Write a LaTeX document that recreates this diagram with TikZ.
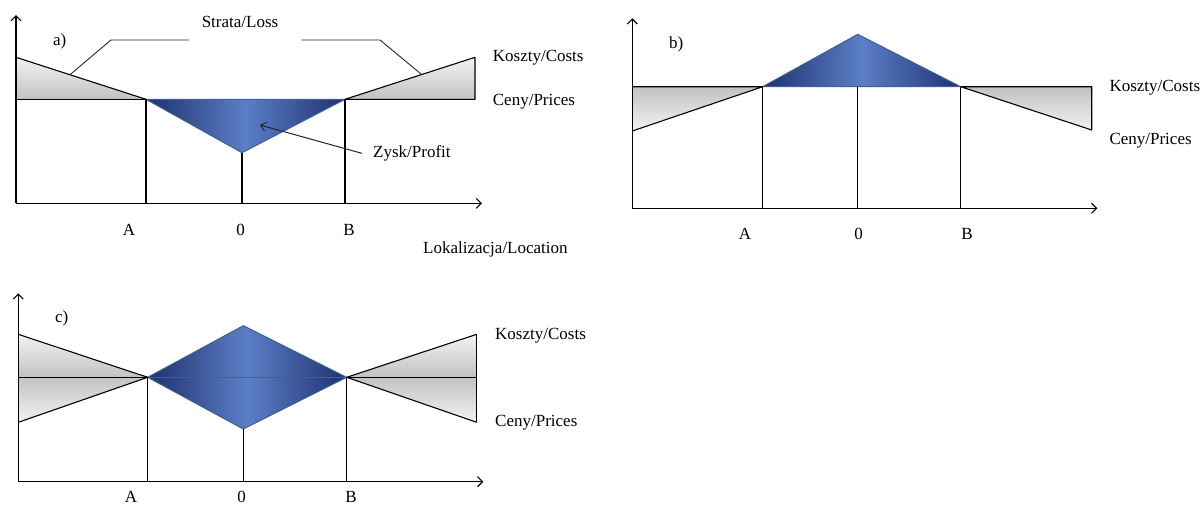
\documentclass[tikz,border=0pt]{standalone}
\usepackage{fontspec}
\setmainfont{Liberation Serif}
\usetikzlibrary{arrows.meta,calc}
\definecolor{bdark}{RGB}{30,50,110}
\definecolor{bmid}{RGB}{92,126,200}
\definecolor{bbord}{RGB}{62,96,150}
\begin{document}
\begin{tikzpicture}[x=1pt,y=-1pt,
  ln/.style={black, line width=1.1pt, line join=round},
  leader/.style={black!85, line width=0.9pt},
  axis/.style={ln, -{Straight Barb[length=5pt,width=10pt]}},
  arr/.style={black!85, line width=1pt, -{Straight Barb[length=5pt,width=9pt]}},
  gdown/.style={top color=gray!10, bottom color=gray!48},
  gup/.style={top color=gray!48, bottom color=gray!10},
  blueshape/.style={left color=bdark, right color=bdark, middle color=bmid, draw=bbord, line width=1pt, line join=round},
  txt/.style={inner sep=0pt, font=\fontsize{17}{20}\selectfont},
  tw/.style={txt, anchor=base west},
  tc/.style={txt, anchor=base}]
\useasboundingbox (0,0) rectangle (1202,504);
\fill[white] (0,0) rectangle (1202,504);

% ---------------- panel a ----------------
\coordinate (aO) at (16,203.3);
\coordinate (aY) at (16,15);
\coordinate (aX) at (482,203.3);
\coordinate (aC0) at (16,57.3);
\coordinate (aP0) at (16,99.3);
\coordinate (aA) at (146,99.3);
\coordinate (aB) at (345,99.3);
\coordinate (aC1) at (475,57.3);
\coordinate (aP1) at (475,99.3);
\coordinate (aV) at (242,152.7);
\coordinate (aAb) at (146,203.3);
\coordinate (aBb) at (345,203.3);
\coordinate (aVb) at (242,203.3);
\shade[gdown] (aC0)--(aA)--(aP0)--cycle;
\shade[gdown] (aB)--(aC1)--(aP1)--cycle;
\path[blueshape] (aA)--(aB)--(aV)--cycle;
\draw[ln] (aC0)--(aA);
\draw[ln] (aP0)--(aA);
\draw[ln] (aB)--(aC1)--(aP1)--(aB);
\draw[ln] (aA)--(aAb);
\draw[ln] (aB)--(aBb);
\draw[ln] (aV)--(aVb);
\draw[axis] (aO)--(aY);
\draw[axis] (aO)--(aX);
\coordinate (aL1) at ($(aC0)!0.415!(aA)$);
\coordinate (aL2) at (111,40);
\coordinate (aL3) at (189,40);
\coordinate (aR1) at ($(aB)!0.59!(aC1)$);
\coordinate (aR2) at (380,40);
\coordinate (aR3) at (301.7,40);
\draw[leader] (aL1)--(aL2)--(aL3);
\draw[leader] (aR1)--(aR2)--(aR3);
\node[tc] (strata) at (240,27.5) {Strata/Loss};
\node[tw] (alab) at (53,45.5) {a)};
\node[tw] (akosz) at (492.7,61.5) {Koszty/Costs};
\node[tw] (aceny) at (492.7,105) {Ceny/Prices};
\node[tw] (zysk) at (373,157.5) {Zysk/Profit};
\coordinate (zt) at (260,125);
\draw[arr] ([xshift=-11pt]zysk.west) -- (zt);
\node[tc] (aAl) at (129,235.5) {A};
\node[tc] (a0l) at (240.7,235.5) {0};
\node[tc] (aBl) at (349,235.5) {B};
\node[tw] (loc) at (423,253) {Lokalizacja/Location};

% ---------------- panel b ----------------
\coordinate (bO) at (632.3,208.3);
\coordinate (bY) at (632.3,18.3);
\coordinate (bX) at (1097.3,208.3);
\coordinate (bC0) at (632.3,86.7);
\coordinate (bP0) at (632.3,131);
\coordinate (bA) at (762.7,86.7);
\coordinate (bB) at (960.7,86.7);
\coordinate (bC1) at (1091.7,86.7);
\coordinate (bP1) at (1091.7,130);
\coordinate (bV) at (857.7,34.3);
\coordinate (bVt) at (857.7,86.7);
\coordinate (bAb) at (762.7,208.3);
\coordinate (bBb) at (960.7,208.3);
\coordinate (bVb) at (857.7,208.3);
\shade[gup] (bC0)--(bA)--(bP0)--cycle;
\shade[gup] (bB)--(bC1)--(bP1)--cycle;
\path[blueshape] (bA)--(bV)--(bB)--cycle;
\draw[ln] (bC0)--(bA)--(bP0);
\draw[ln] (bB)--(bC1)--(bP1)--(bB);
\draw[ln] (bA)--(bAb);
\draw[ln] (bB)--(bBb);
\draw[ln] (bVt)--(bVb);
\draw[axis] (bO)--(bY);
\draw[axis] (bO)--(bX);
\node[tw] (blab) at (669,48.5) {b)};
\node[tw] (bkosz) at (1109.3,91.5) {Koszty/Costs};
\node[tw] (bceny) at (1109.3,144) {Ceny/Prices};
\node[tc] (bAl) at (745,239.5) {A};
\node[tc] (b0l) at (858.5,239.5) {0};
\node[tc] (bBl) at (967,239.5) {B};

% ---------------- panel c ----------------
\coordinate (cO) at (18.3,481.7);
\coordinate (cY) at (18.3,293.3);
\coordinate (cX) at (483.3,481.7);
\coordinate (cC0) at (18.3,334.3);
\coordinate (cP0) at (18.3,377.3);
\coordinate (cQ0) at (18.3,422.3);
\coordinate (cA) at (147.7,377.3);
\coordinate (cB) at (346.7,377.3);
\coordinate (cC1) at (476.7,334.3);
\coordinate (cP1) at (476.7,377.3);
\coordinate (cQ1) at (476.7,422.3);
\coordinate (cT) at (243.3,325.7);
\coordinate (cV) at (243.3,429);
\coordinate (cAb) at (147.7,481.7);
\coordinate (cBb) at (346.7,481.7);
\coordinate (cVb) at (243.3,481.7);
\shade[gdown] (cC0)--(cA)--(cP0)--cycle;
\shade[gup] (cP0)--(cA)--(cQ0)--cycle;
\shade[gdown] (cB)--(cC1)--(cP1)--cycle;
\shade[gup] (cB)--(cP1)--(cQ1)--cycle;
\path[blueshape] (cA)--(cT)--(cB)--(cV)--cycle;
\draw[bbord, line width=1pt] (cA)--(cB);
\draw[ln] (cC0)--(cA)--(cQ0);
\draw[ln] (cP0)--(cA);
\draw[ln] (cC1)--(cB)--(cQ1);
\draw[ln] (cB)--(cP1);
\draw[ln] (cC1)--(cQ1);
\draw[ln] (cA)--(cAb);
\draw[ln] (cB)--(cBb);
\draw[ln] (cV)--(cVb);
\draw[axis] (cO)--(cY);
\draw[axis] (cO)--(cX);
\node[tw] (clab) at (55,322) {c)};
\node[tw] (ckosz) at (495,339.5) {Koszty/Costs};
\node[tw] (cceny) at (495,426) {Ceny/Prices};
\node[tc] (cAl) at (131,502) {A};
\node[tc] (c0l) at (241.7,502) {0};
\node[tc] (cBl) at (351,502) {B};
\end{tikzpicture}
\end{document}
